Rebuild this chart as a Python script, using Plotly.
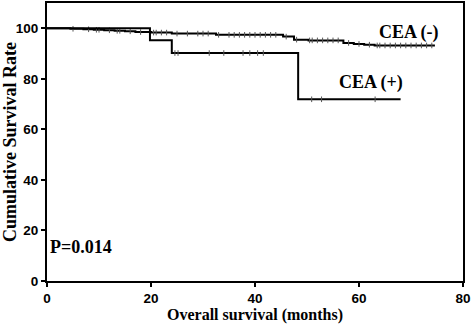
import numpy as np
import plotly.graph_objects as go

# CEA (-) group: step times (months) and cumulative survival (%)
neg_time = [0, 4.5, 7, 9, 11, 13, 15, 17, 20, 24, 32.5, 45.4, 47.5, 50.3, 57, 59, 61, 63, 74.6]
neg_surv = [100, 99.8, 99.6, 99.4, 99.2, 99.0, 98.8, 98.5, 98.3, 97.9, 97.4, 96.7, 95.5, 95.2, 94.2, 93.8, 93.5, 93.2, 93.2]
neg_censor = [5, 8, 9.5, 10, 12, 13.5, 14, 16, 18, 20.5, 21, 22, 23, 25, 27, 29, 30, 31, 33, 35, 36, 37,
              38, 39, 40, 41, 42, 43, 44, 46, 48, 50.5, 51, 52, 53, 54, 55, 56, 58, 60, 62, 63.5, 64,
              65, 66, 67, 68, 69, 70, 71, 72, 73, 74]

# CEA (+) group
pos_time = [0, 19.8, 24, 48.3, 68]
pos_surv = [100, 95.3, 90.2, 71.9, 71.9]
pos_censor = [24.6, 25.2, 31.2, 34, 37.7, 39, 40.5, 41.6, 50.9, 52.8, 63.1]

x_ticks = [0, 20, 40, 60, 80]
y_ticks = [0, 20, 40, 60, 80, 100]


def step_value(times, surv, t):
    idx = np.searchsorted(np.array(times), t, side="right") - 1
    return [surv[i] for i in idx]


fig = go.Figure()
for times, surv, cens in [(neg_time, neg_surv, neg_censor), (pos_time, pos_surv, pos_censor)]:
    fig.add_trace(go.Scatter(x=times, y=surv, mode="lines", line=dict(color="black", width=2, shape="hv"),
                             showlegend=False, hoverinfo="skip"))
    fig.add_trace(go.Scatter(x=cens, y=step_value(times, surv, cens), mode="markers",
                             marker=dict(symbol="line-ns", size=4, line=dict(color="#555555", width=1)),
                             showlegend=False, hoverinfo="skip"))

serif = "Liberation Serif"
fig.add_annotation(x=69.6, y=98.2, text="<b>CEA (-)</b>", showarrow=False,
                   font=dict(family=serif, size=18, color="black"))
fig.add_annotation(x=62.3, y=78.5, text="<b>CEA (+)</b>", showarrow=False,
                   font=dict(family=serif, size=18, color="black"))
fig.add_annotation(x=6.6, y=13.4, text="<b>P=0.014</b>", showarrow=False,
                   font=dict(family=serif, size=18, color="black"))

axis_common = dict(showgrid=False, zeroline=False, showline=True, linecolor="black", linewidth=2,
                   mirror=True, ticks="outside", ticklen=4, tickwidth=2, tickcolor="black",
                   automargin=False,
                   tickfont=dict(family="Liberation Sans", size=13.5, color="black", weight="bold"))

fig.update_layout(
    width=472, height=324,
    margin=dict(l=47, r=9, t=3, b=43),
    paper_bgcolor="white", plot_bgcolor="white",
    xaxis=dict(range=[0, 80], tickvals=x_ticks,
               title=dict(text="<b>Overall survival (months)</b>", standoff=3,
                          font=dict(family=serif, size=16, color="black")),
               **axis_common),
    yaxis=dict(range=[0, 110], tickvals=y_ticks,
               title=dict(text="<b>Cumulative Survival Rate</b>", standoff=2,
                          font=dict(family=serif, size=18, color="black")),
               **axis_common),
)

fig.write_html("out.html", config={"displayModeBar": False},
               post_script="document.body.style.margin='0';")
